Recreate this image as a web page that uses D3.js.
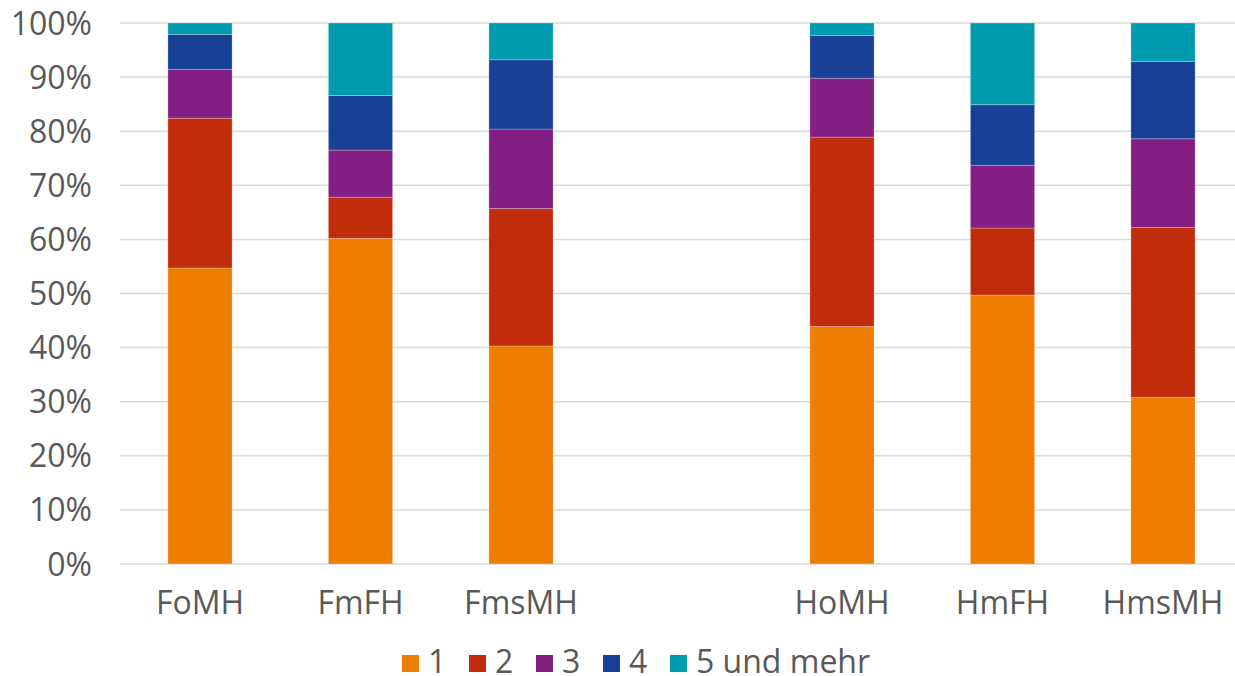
<!DOCTYPE html>
<html><head><meta charset="utf-8">
<script src="https://cdn.jsdelivr.net/npm/d3@7"></script>
<style>body{margin:0;background:#fff}svg{display:block}</style>
</head><body><svg id="c" width="1235" height="676"></svg>
<script>
const categories = ["FoMH","FmFH","FmsMH","","HoMH","HmFH","HmsMH"];
const seriesNames = ["1","2","3","4","5 und mehr"];
const s1 = [54.7, 60.2, 40.3, null, 43.9, 49.7, 30.8];
const s2 = [27.7, 7.6, 25.4, null, 35.0, 12.4, 31.4];
const s3 = [9.0, 8.7, 14.7, null, 10.9, 11.6, 16.4];
const s4 = [6.5, 10.1, 12.8, null, 7.9, 11.2, 14.3];
const s5 = [2.1, 13.4, 6.8, null, 2.3, 15.1, 7.1];
const yTicks = [0,10,20,30,40,50,60,70,80,90,100];
const colors = ["#EF7D00","#C12D0B","#831F82","#174096","#009BAE"];

const font = "'Open Sans', sans-serif";
const fs = 32;
const textColor = "#595959";
const svg = d3.select("#c");
const x = d3.scaleBand().domain(categories).range([119.75, 1243.25]).paddingInner(0.6).paddingOuter(0.3);
const y = d3.scaleLinear().domain([0,100]).range([564, 23]);

const rows = categories.map((c,i)=>({cat:c, "1":s1[i], "2":s2[i], "3":s3[i], "4":s4[i], "5 und mehr":s5[i]})).filter(d=>d.cat!=="");
const stack = d3.stack().keys(seriesNames)(rows);

// grid
svg.append("g").selectAll("line").data(yTicks).join("line")
  .attr("x1",120).attr("x2",1235).attr("y1",d=>y(d)).attr("y2",d=>y(d))
  .attr("stroke","#d9d9d9").attr("stroke-width",1.5);

// y labels
svg.append("g").selectAll("text").data(yTicks).join("text")
  .attr("x",92).attr("y",d=>y(d)).attr("dy","0.36em").attr("text-anchor","end")
  .attr("font-family",font).attr("font-size",fs).attr("fill",textColor).text(d=>d+"%");

// bars
svg.append("g").selectAll("g").data(stack).join("g").attr("fill",(d,i)=>colors[i])
  .selectAll("rect").data(d=>d).join("rect")
  .attr("x",d=>x(d.data.cat)).attr("width",x.bandwidth())
  .attr("y",d=>y(d[1])).attr("height",d=>y(d[0])-y(d[1]))
  .attr("stroke","#ffffff").attr("stroke-opacity",0.25).attr("stroke-width",1);

// x labels
svg.append("g").selectAll("text").data(categories.filter(c=>c!=="")).join("text")
  .attr("x",d=>x(d)+x.bandwidth()/2).attr("y",614).attr("text-anchor","middle")
  .attr("font-family",font).attr("font-size",fs).attr("fill",textColor).text(d=>d);

// legend
const legendX = [402, 469, 536, 603, 670];
const lg = svg.append("g").selectAll("g").data(seriesNames).join("g")
  .attr("transform",(d,i)=>`translate(${legendX[i]},655)`);
lg.append("rect").attr("width",17).attr("height",17).attr("fill",(d,i)=>colors[i]);
lg.append("text").attr("x",26).attr("y",18).attr("font-family",font).attr("font-size",fs)
  .attr("fill",textColor).text(d=>d);
</script></body></html>
